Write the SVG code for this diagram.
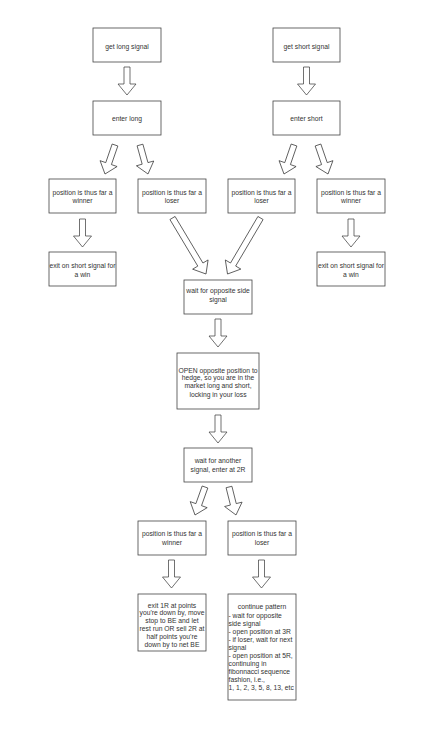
<svg xmlns="http://www.w3.org/2000/svg" width="442" height="734" viewBox="0 0 442 734">
<style>
.box{fill:#fff;stroke:#444;stroke-width:0.8}
.arr{fill:#fff;stroke:#333;stroke-width:0.7;stroke-linejoin:miter}
text{font-family:"Liberation Sans",Arial,sans-serif;font-size:6.75px;fill:#333}
.c{text-anchor:middle}
</style>
<rect width="442" height="734" fill="#fff"/>
<g id="connectors">
<polygon class="arr" transform="translate(127 67) rotate(90)" points="0,-3 17,-3 17,-9 28,0 17,9 17,3 0,3"/>
<polygon class="arr" transform="translate(306.5 67) rotate(90)" points="0,-3 17,-3 17,-9 28,0 17,9 17,3 0,3"/>
<polygon class="arr" transform="translate(115 145) rotate(109.03)" points="0,-3 19.68,-3 19.68,-9 30.68,0 19.68,9 19.68,3 0,3"/>
<polygon class="arr" transform="translate(140 145) rotate(74.58)" points="0,-3 19.08,-3 19.08,-9 30.08,0 19.08,9 19.08,3 0,3"/>
<polygon class="arr" transform="translate(294 145) rotate(109.03)" points="0,-3 19.68,-3 19.68,-9 30.68,0 19.68,9 19.68,3 0,3"/>
<polygon class="arr" transform="translate(318 145) rotate(70.97)" points="0,-3 19.68,-3 19.68,-9 30.68,0 19.68,9 19.68,3 0,3"/>
<polygon class="arr" transform="translate(82.5 219) rotate(90)" points="0,-3 17,-3 17,-9 28,0 17,9 17,3 0,3"/>
<polygon class="arr" transform="translate(351 219) rotate(90)" points="0,-3 17,-3 17,-9 28,0 17,9 17,3 0,3"/>
<polygon class="arr" transform="translate(172.5 218) rotate(59.11)" points="0,-3 54.26,-3 54.26,-9 65.26,0 54.26,9 54.26,3 0,3"/>
<polygon class="arr" transform="translate(260.5 218) rotate(120.51)" points="0,-3 54,-3 54,-9 65,0 54,9 54,3 0,3"/>
<polygon class="arr" transform="translate(218 319) rotate(90)" points="0,-3 17,-3 17,-9 28,0 17,9 17,3 0,3"/>
<polygon class="arr" transform="translate(218 415) rotate(90)" points="0,-3 17,-3 17,-9 28,0 17,9 17,3 0,3"/>
<polygon class="arr" transform="translate(205 487) rotate(109.65)" points="0,-3 18.73,-3 18.73,-9 29.73,0 18.73,9 18.73,3 0,3"/>
<polygon class="arr" transform="translate(229 487) rotate(75.96)" points="0,-3 17.86,-3 17.86,-9 28.86,0 17.86,9 17.86,3 0,3"/>
<polygon class="arr" transform="translate(171.5 560) rotate(90)" points="0,-3 17,-3 17,-9 28,0 17,9 17,3 0,3"/>
<polygon class="arr" transform="translate(261.5 560) rotate(90)" points="0,-3 17,-3 17,-9 28,0 17,9 17,3 0,3"/>
</g>
<g id="get-long"><rect class="box" x="93" y="28" width="68" height="34"/><text class="c" x="127" y="48.5">get long signal</text></g>
<g id="get-short"><rect class="box" x="273" y="28" width="67" height="34"/><text class="c" x="306.5" y="48.5">get short signal</text></g>
<g id="enter-long"><rect class="box" x="93" y="101" width="68" height="34"/><text class="c" x="127" y="120.5">enter long</text></g>
<g id="enter-short"><rect class="box" x="273" y="101" width="67" height="34"/><text class="c" x="306.5" y="120.5">enter short</text></g>
<g id="winner1"><rect class="box" x="49" y="179" width="67" height="34"/><text class="c" x="82.5" y="195.2">position is thus far a</text><text class="c" x="82.5" y="203.2">winner</text></g>
<g id="loser1"><rect class="box" x="138" y="179" width="68" height="34"/><text class="c" x="172" y="195.2">position is thus far a</text><text class="c" x="172" y="203.2">loser</text></g>
<g id="loser2"><rect class="box" x="228" y="179" width="67" height="34"/><text class="c" x="261.5" y="195.2">position is thus far a</text><text class="c" x="261.5" y="203.2">loser</text></g>
<g id="winner2"><rect class="box" x="317" y="179" width="68" height="34"/><text class="c" x="351" y="195.2">position is thus far a</text><text class="c" x="351" y="203.2">winner</text></g>
<g id="exit1"><rect class="box" x="49" y="252" width="67" height="34"/><text class="c" x="82.5" y="268.2">exit on short signal for</text><text class="c" x="82.5" y="276.8">a win</text></g>
<g id="exit2"><rect class="box" x="317" y="252" width="68" height="34"/><text class="c" x="351" y="268.2">exit on short signal for</text><text class="c" x="351" y="276.8">a win</text></g>
<g id="wait-opposite"><rect class="box" x="184" y="280" width="68" height="34"/><text class="c" x="218" y="293.2">wait for opposite side</text><text class="c" x="218" y="301.8">signal</text></g>
<g id="open-opposite"><rect class="box" x="177" y="353" width="82" height="56"/><text class="c" x="218" y="372.5">OPEN opposite position to</text><text class="c" x="218" y="380">hedge, so you are in the</text><text class="c" x="218" y="388.2">market long and short,</text><text class="c" x="218" y="396.5">locking in your loss</text></g>
<g id="wait-another"><rect class="box" x="184" y="448" width="68" height="34"/><text class="c" x="218" y="463.2">wait for another</text><text class="c" x="218" y="471.8">signal, enter at 2R</text></g>
<g id="winner3"><rect class="box" x="138" y="521" width="68" height="34"/><text class="c" x="172" y="536.2">position is thus far a</text><text class="c" x="172" y="544.8">winner</text></g>
<g id="loser3"><rect class="box" x="228" y="521" width="68" height="34"/><text class="c" x="262" y="536.2">position is thus far a</text><text class="c" x="262" y="544.8">loser</text></g>
<g id="exit-1r"><rect class="box" x="138" y="594" width="68" height="57"/><text class="c" x="172" y="607.5">exit 1R at points</text><text class="c" x="172" y="615.2">you're down by, move</text><text class="c" x="172" y="623.2">stop to BE and let</text><text class="c" x="172" y="631.2">rest run OR sell 2R at</text><text class="c" x="172" y="639.2">half points you're</text><text class="c" x="172" y="647.2">down by to net BE</text></g>
<g id="continue"><rect class="box" x="228" y="594" width="68" height="106"/><text class="c" x="262" y="609.2">continue pattern</text><text x="228.5" y="617.5">- wait for opposite</text><text x="228.5" y="625.8">side signal</text><text x="228.5" y="634.2">- open position at 3R</text><text x="228.5" y="641.5">- if loser, wait for next</text><text x="228.5" y="649.8">signal</text><text x="228.5" y="657.5">- open position at 5R,</text><text x="228.5" y="665.8">continuing in</text><text x="228.5" y="673.5">fibonnacci sequence</text><text x="228.5" y="681.8">fashion, i.e.,</text><text x="228.5" y="690.2">1, 1, 2, 3, 5, 8, 13, etc</text></g>
</svg>
